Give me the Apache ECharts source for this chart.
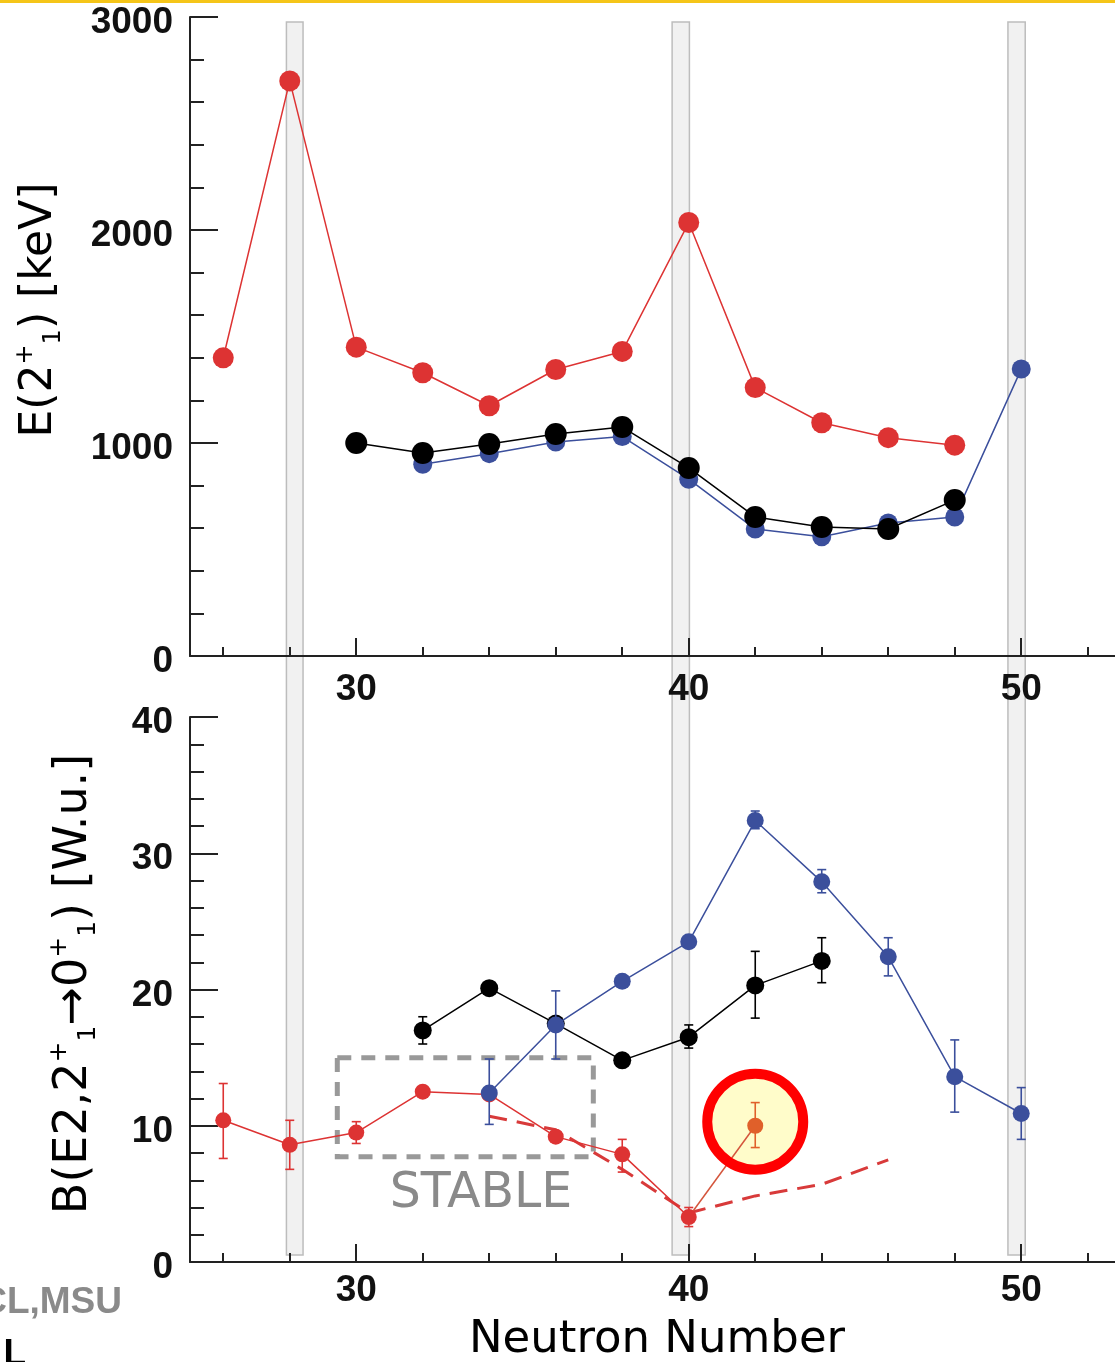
<!DOCTYPE html>
<html>
<head>
<meta charset="utf-8">
<script src="https://cdn.jsdelivr.net/npm/echarts@6/dist/echarts.min.js"></script>
<style>
html,body{margin:0;padding:0;background:#fff;}
#c{width:1115px;height:1362px;}
</style>
</head>
<body>
<div id="c"></div>
<script>
// ---------- DATA ----------
// Top panel: E(2+1) [keV]
const topRedN   = [26, 28, 30, 32, 34, 36, 38, 40, 42, 44, 46, 48];
const topRedE   = [1400, 2700, 1450, 1330, 1175, 1345, 1430, 2035, 1260, 1095, 1025, 990];
const topBlueN  = [32, 34, 36, 38, 40, 42, 44, 46, 48, 50];
const topBlueE  = [900, 950, 1005, 1030, 830, 596, 560, 624, 653, 1347];
const topBlackN = [30, 32, 34, 36, 38, 40, 42, 44, 46, 48];
const topBlackE = [1000, 953, 995, 1042, 1075, 883, 653, 606, 596, 732];

// Bottom panel: B(E2) [W.u.]
const botRedN   = [26, 28, 30, 32, 34, 36, 38, 40];
const botRedB   = [10.4, 8.6, 9.5, 12.5, 12.3, 9.2, 7.9, 3.3];
const botRedLo  = [7.6, 6.8, 8.7, null, null, null, 6.6, 2.6];
const botRedHi  = [13.1, 10.4, 10.3, null, null, null, 9.0, 4.0];

const newN      = [40, 42];
const newB      = [3.3, 10.0];
const newLo     = [null, 8.4];
const newHi     = [null, 11.7];

const botBlackN  = [32, 34, 36, 38, 40, 42, 44];
const botBlackB  = [17.0, 20.1, 17.5, 14.8, 16.5, 20.3, 22.1];
const botBlackLo = [16.0, null, null, null, 15.7, 17.9, 20.5];
const botBlackHi = [18.0, null, null, null, 17.4, 22.8, 23.8];

const botBlueN  = [34, 36, 38, 40, 42, 44, 46, 48, 50];
const botBlueB  = [12.4, 17.4, 20.6, 23.5, 32.4, 27.9, 22.4, 13.6, 10.9];
const botBlueLo = [10.1, 14.9, null, null, 31.8, 27.1, 21.0, 11.0, 9.0];
const botBlueHi = [14.9, 19.9, null, null, 33.1, 28.8, 23.8, 16.3, 12.8];

const theoryN   = [34, 36, 38, 40, 42, 44, 46];
const theoryB   = [10.7, 9.7, 6.8, 3.6, 4.85, 5.7, 7.5];

// Magic-number bands (neutron number ranges)
const bandStart = [27.9, 39.5, 49.6];
const bandEnd   = [28.4, 40.02, 50.12];

// "STABLE" box corners [N, B]
const stableBox = [[29.43, 15.0], [37.13, 7.72]];
// highlighted point
const highlight = [42, 10.3];

// tick values
const majorX = [30, 40, 50];
const minorX = [26, 28, 32, 34, 36, 38, 42, 44, 46, 48, 52];

// ---------- HELPERS ----------
const RED = '#dd3333', BLUE = '#3b4f9c', BLACK = '#000000', ORANGE = '#e0602a';
const TITLE_FONT = '"DejaVu Sans", sans-serif';
const TICK_FONT = '"Liberation Sans", Arial, sans-serif';
const XMIN = 25, XMAX = 52.82;

function pairs(xs, ys) { return xs.map((x, i) => [x, ys[i]]); }
function errData(xs, lo, hi) {
  const out = [];
  xs.forEach((x, i) => { if (lo[i] != null) out.push([x, lo[i], hi[i]]); });
  return out;
}
function errSeries(xi, yi, xs, lo, hi, color, z) {
  return {
    type: 'custom', xAxisIndex: xi, yAxisIndex: yi, z: z,
    data: errData(xs, lo, hi),
    encode: { x: 0, y: [1, 2] },
    renderItem: function (params, api) {
      const x = api.value(0);
      const pHi = api.coord([x, api.value(2)]);
      const pLo = api.coord([x, api.value(1)]);
      const w = 4.5;
      const st = { stroke: color, lineWidth: 1.6 };
      return {
        type: 'group', children: [
          { type: 'line', shape: { x1: pHi[0], y1: pHi[1], x2: pLo[0], y2: pLo[1] }, style: st },
          { type: 'line', shape: { x1: pHi[0] - w, y1: pHi[1], x2: pHi[0] + w, y2: pHi[1] }, style: st },
          { type: 'line', shape: { x1: pLo[0] - w, y1: pLo[1], x2: pLo[0] + w, y2: pLo[1] }, style: st }
        ]
      };
    }
  };
}
function lineSeries(xi, yi, xs, ys, color, size, z, lw) {
  return {
    type: 'line', xAxisIndex: xi, yAxisIndex: yi, z: z,
    data: pairs(xs, ys),
    symbol: 'circle', symbolSize: size,
    itemStyle: { color: color, opacity: 1 },
    lineStyle: { color: color, width: lw || 1.5 },
    emphasis: { disabled: true }
  };
}

function majorXAxis(gi, margin) {
  return {
    gridIndex: gi, type: 'value', position: 'bottom', min: XMIN, max: XMAX,
    axisLine: { show: true, onZero: false, lineStyle: { color: '#222', width: 2 } },
    axisTick: { show: true, inside: true, length: 18, customValues: majorX, lineStyle: { color: '#222', width: 2 } },
    axisLabel: { show: true, customValues: majorX, margin: margin, fontSize: 37, fontWeight: 'bold', fontFamily: TICK_FONT, color: '#111', formatter: v => String(v) },
    splitLine: { show: false }
  };
}
function minorXAxis(gi) {
  return {
    gridIndex: gi, type: 'value', position: 'bottom', min: XMIN, max: XMAX,
    axisLine: { show: false, onZero: false },
    axisTick: { show: true, inside: true, length: 9, customValues: minorX, lineStyle: { color: '#222', width: 2 } },
    axisLabel: { show: false },
    splitLine: { show: false }
  };
}
function yAxisCfg(gi, max, interval) {
  return {
    gridIndex: gi, type: 'value', min: 0, max: max, interval: interval,
    axisLine: { show: true, lineStyle: { color: '#222', width: 2 } },
    axisTick: { show: true, inside: true, length: 28, lineStyle: { color: '#222', width: 2 } },
    minorTick: { show: true, splitNumber: 5, length: 14, lineStyle: { color: '#222', width: 2 } },
    axisLabel: { margin: 17, fontSize: 37, fontWeight: 'bold', fontFamily: TICK_FONT, color: '#111', verticalAlign: 'top', lineHeight: 12, formatter: v => String(v) },
    splitLine: { show: false }
  };
}

const chart = echarts.init(document.getElementById('c'), null, { renderer: 'canvas' });

const option = {
  animation: false,
  backgroundColor: '#ffffff',
  grid: [
    { left: 190, top: 17, width: 925, height: 639 },
    { left: 190, top: 717, width: 925, height: 545 },
    { left: 190, top: 22, width: 925, height: 1233 }
  ],
  xAxis: [
    majorXAxis(0, 15), minorXAxis(0),
    majorXAxis(1, 10), minorXAxis(1),
    { gridIndex: 2, type: 'value', min: XMIN, max: XMAX, show: false }
  ],
  yAxis: [
    yAxisCfg(0, 3000, 1000),
    yAxisCfg(1, 40, 10),
    { gridIndex: 2, type: 'value', min: 0, max: 1, show: false }
  ],
  series: [
    // magic number bands
    {
      type: 'custom', xAxisIndex: 4, yAxisIndex: 2, z: -1,
      data: bandStart.map((s, i) => [s, bandEnd[i]]),
      encode: { x: [0, 1] },
      renderItem: function (params, api) {
        const p1 = api.coord([api.value(0), 1]);
        const p2 = api.coord([api.value(1), 0]);
        return {
          type: 'rect',
          shape: { x: p1[0], y: p1[1], width: p2[0] - p1[0], height: p2[1] - p1[1] },
          style: { fill: '#f1f1f1', stroke: '#bdbdbd', lineWidth: 1.5 }
        };
      }
    },
    // top panel
    lineSeries(0, 0, topRedN, topRedE, RED, 21, 3),
    lineSeries(0, 0, topBlueN, topBlueE, BLUE, 19, 4),
    lineSeries(0, 0, topBlackN, topBlackE, BLACK, 22, 5),

    // bottom panel: highlight fill
    {
      type: 'scatter', xAxisIndex: 2, yAxisIndex: 1, z: 2,
      data: [highlight], symbol: 'circle', symbolSize: 96,
      itemStyle: { color: '#fffcca', opacity: 1 }, emphasis: { disabled: true }
    },
    // dashed theory line + STABLE box
    {
      type: 'line', xAxisIndex: 2, yAxisIndex: 1, z: 3,
      data: pairs(theoryN, theoryB),
      symbol: 'none',
      lineStyle: { color: '#d83a3a', width: 3, type: [18, 10] },
      markArea: {
        silent: true,
        itemStyle: { color: 'rgba(0,0,0,0)', borderColor: '#999999', borderWidth: 5, borderType: [14, 10] },
        data: [[{ coord: stableBox[0] }, { coord: stableBox[1] }]]
      },
      emphasis: { disabled: true }
    },
    lineSeries(2, 1, botRedN, botRedB, RED, 16, 4),
    errSeries(2, 1, botRedN, botRedLo, botRedHi, RED, 4),
    {
      type: 'line', xAxisIndex: 2, yAxisIndex: 1, z: 4,
      data: [{ value: [newN[0], newB[0]], symbol: 'none' }, { value: [newN[1], newB[1]] }],
      symbol: 'circle', symbolSize: 16,
      itemStyle: { color: ORANGE, opacity: 1 },
      lineStyle: { color: '#d4553c', width: 1.5 },
      emphasis: { disabled: true }
    },
    errSeries(2, 1, newN, newLo, newHi, ORANGE, 4),
    lineSeries(2, 1, botBlackN, botBlackB, BLACK, 18, 5),
    errSeries(2, 1, botBlackN, botBlackLo, botBlackHi, BLACK, 5),
    lineSeries(2, 1, botBlueN, botBlueB, BLUE, 17, 6),
    errSeries(2, 1, botBlueN, botBlueLo, botBlueHi, BLUE, 6),
    // highlight ring
    {
      type: 'scatter', xAxisIndex: 2, yAxisIndex: 1, z: 7,
      data: [highlight], symbol: 'circle', symbolSize: 96,
      itemStyle: { color: 'rgba(0,0,0,0)', borderColor: '#ff0000', borderWidth: 10, opacity: 1 },
      emphasis: { disabled: true }
    }
  ],
  graphic: [
    { type: 'rect', left: 0, top: 0, shape: { width: 1115, height: 3 }, style: { fill: '#f5c518' } },
    {
      type: 'text', x: 40, y: 310, rotation: Math.PI / 2,
      style: {
        text: '{a|E(2}{sup|+}{sub|1}{a|) [keV]}',
        align: 'center', verticalAlign: 'middle',
        rich: {
          a: { fontSize: 44, fontFamily: TITLE_FONT, color: '#000', lineHeight: 52, verticalAlign: 'middle' },
          sup: { fontSize: 24, fontFamily: TITLE_FONT, color: '#000', lineHeight: 24, verticalAlign: 'top' },
          sub: { fontSize: 24, fontFamily: TITLE_FONT, color: '#000', lineHeight: 24, verticalAlign: 'bottom' }
        }
      }
    },
    {
      type: 'text', x: 74, y: 984, rotation: Math.PI / 2,
      style: {
        text: '{a|B(E2,2}{sup|+}{sub|1}{a|→0}{sup|+}{sub|1}{a|) [W.u.]}',
        align: 'center', verticalAlign: 'middle',
        rich: {
          a: { fontSize: 46, fontFamily: TITLE_FONT, color: '#000', lineHeight: 54, verticalAlign: 'middle' },
          sup: { fontSize: 25, fontFamily: TITLE_FONT, color: '#000', lineHeight: 25, verticalAlign: 'top' },
          sub: { fontSize: 25, fontFamily: TITLE_FONT, color: '#000', lineHeight: 25, verticalAlign: 'bottom' }
        }
      }
    },
    {
      type: 'text', x: 657, y: 1340,
      style: { text: 'Neutron Number', align: 'center', verticalAlign: 'middle', fontSize: 45, fontFamily: TITLE_FONT, fill: '#000' }
    },
    {
      type: 'text', x: 481, y: 1194,
      style: { text: 'STABLE', align: 'center', verticalAlign: 'middle', fontSize: 49, fontFamily: TITLE_FONT, fill: '#8a8a8a' }
    },
    {
      type: 'text', x: 122, y: 1303,
      style: { text: 'CL,MSU', align: 'right', verticalAlign: 'middle', fontSize: 37, fontWeight: 'bold', fontFamily: TICK_FONT, fill: '#8a8a8a' }
    },
    {
      type: 'text', x: 26, y: 1355,
      style: { text: 'L', align: 'right', verticalAlign: 'middle', fontSize: 37, fontWeight: 'bold', fontFamily: TICK_FONT, fill: '#000' }
    }
  ]
};
chart.setOption(option);
</script>
</body>
</html>
